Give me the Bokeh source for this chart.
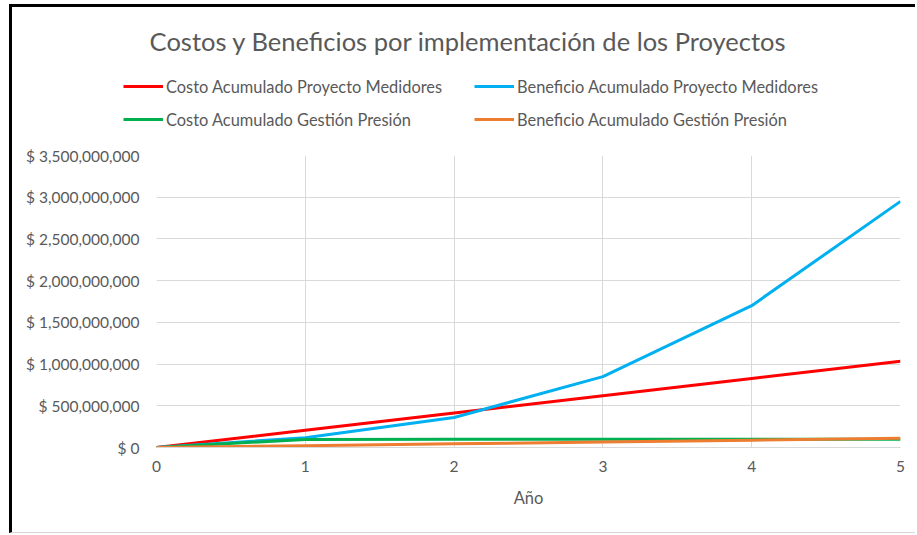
from bokeh.plotting import figure
from bokeh.layouts import column
from bokeh.models import Legend, LegendItem, FixedTicker, Range1d, Label
from bokeh.embed import file_html
from bokeh.resources import INLINE

# ---- data ----
years = [0, 1, 2, 3, 4, 5]
costo_medidores = [0, 207e6, 414e6, 621e6, 828e6, 1035e6]
beneficio_medidores = [0, 118e6, 360e6, 850e6, 1700e6, 2950e6]
costo_gestion = [0, 97e6, 98e6, 99e6, 100e6, 100e6]
beneficio_gestion = [0, 22e6, 44e6, 66e6, 88e6, 110e6]

series_names = [
    "Costo Acumulado Proyecto Medidores",
    "Beneficio Acumulado Proyecto Medidores",
    "Costo Acumulado Gestión Presión",
    "Beneficio Acumulado Gestión Presión",
]
series_colors = ["#ff0000", "#00b0f0", "#00b050", "#ed7d31"]

y_ticks = [0, 500e6, 1000e6, 1500e6, 2000e6, 2500e6, 3000e6, 3500e6]
y_tick_labels = ["$ 0", "$ 500,000,000", "$ 1,000,000,000", "$ 1,500,000,000",
                 "$ 2,000,000,000", "$ 2,500,000,000", "$ 3,000,000,000", "$ 3,500,000,000"]
x_ticks = [0, 1, 2, 3, 4, 5]
title_text = "Costos y Beneficios por implementación de los Proyectos"

FONT = "Lato"
GRAY = "#595959"
GRID = "#d9d9d9"
W = 903

data = [costo_medidores, beneficio_medidores, costo_gestion, beneficio_gestion]

# ---- header figure: title + legend ----
top = figure(width=W, height=128, output_backend="svg", toolbar_location=None,
             x_range=Range1d(0, 5), y_range=Range1d(0, 3500e6),
             min_border=0, x_axis_type=None, y_axis_type=None)
top.frame_align = False
top.outline_line_color = None
top.xgrid.visible = False
top.ygrid.visible = False
top_renderers = []
for vals, c in zip(data, series_colors):
    r = top.line(years, vals, line_color=c, line_width=3, visible=False)
    top_renderers.append(r)

legend = Legend(items=[LegendItem(label=n, renderers=[r]) for n, r in zip(series_names, top_renderers)],
                ncols=2, location=(111, 6), orientation="horizontal",
                label_text_font=FONT, label_text_font_size="16.4px", label_text_color=GRAY,
                glyph_width=40, glyph_height=20, label_standoff=3, label_width=295,
                label_height=20, spacing=13, padding=0, margin=0,
                border_line_color=None, background_fill_alpha=0)
top.add_layout(legend, "center")

title = Label(x=456, y=95, x_units="screen", y_units="screen", text=title_text,
              text_font=FONT, text_font_size="25.5px", text_color=GRAY,
              text_align="center", text_baseline="middle")
top.add_layout(title)

# ---- main chart ----
p = figure(width=W, height=397, output_backend="svg", toolbar_location=None,
           x_range=Range1d(0, 5), y_range=Range1d(0, 3500e6),
           min_border_left=144, min_border_right=15, min_border_top=20,
           min_border_bottom=85)
p.frame_align = False
p.outline_line_color = None

for vals, c in zip(data, series_colors):
    p.line(years, vals, line_color=c, line_width=3)

p.xaxis.ticker = FixedTicker(ticks=x_ticks)
p.yaxis.ticker = FixedTicker(ticks=y_ticks)
p.yaxis.major_label_overrides = {t: l for t, l in zip(y_ticks, y_tick_labels)}
for ax in (p.xaxis[0], p.yaxis[0]):
    ax.major_tick_line_color = None
    ax.minor_tick_line_color = None
    ax.major_label_text_font = FONT
    ax.major_label_text_font_size = "15.5px"
    ax.major_label_text_color = GRAY
p.yaxis.axis_line_color = None
p.xaxis.axis_line_color = GRID
p.yaxis.major_label_standoff = 11
p.xaxis.major_label_standoff = 7
p.xaxis.axis_label = "Año"
p.xaxis.axis_label_text_font = FONT
p.xaxis.axis_label_text_font_size = "16.5px"
p.xaxis.axis_label_text_font_style = "normal"
p.xaxis.axis_label_text_color = GRAY
p.xaxis.axis_label_standoff = 13

p.xgrid.grid_line_color = GRID
p.ygrid.grid_line_color = GRID

page = column(top, p, spacing=0)
page.styles = {"margin-left": "9px", "margin-top": "4px",
               "border-left": "3px solid black", "border-top": "3px solid black",
               "border-bottom": "1px solid #d9d9d9"}

open("out.html", "w").write(file_html(page, INLINE))
